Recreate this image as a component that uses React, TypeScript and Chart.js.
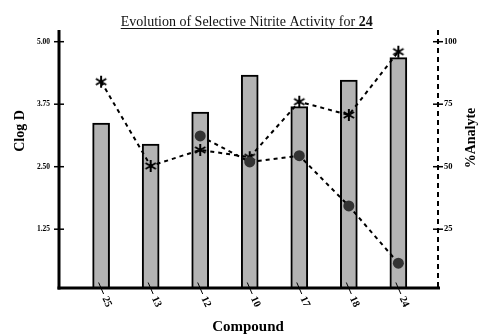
import React, { useEffect, useRef } from "react";
import { Chart, registerables } from "chart.js";

Chart.register(...registerables);

const compounds = ["25", "13", "12", "10", "17", "18", "24"];
const clogD = [3.37, 2.95, 3.59, 4.33, 3.7, 4.23, 4.68];
const analyteStar = [84, 50.3, 56.7, 53.8, 76, 70.7, 96];
const analyteDot: (number | null)[] = [null, null, 62.3, 51.9, 54.4, 34.3, 11.4];
const leftTicks = [1.25, 2.5, 3.75, 5.0];
const rightTicks = [25, 50, 75, 100];

const SERIF = '"Liberation Serif", "Times New Roman", serif';

function makeAsterisk(): HTMLCanvasElement {
  const c = document.createElement("canvas");
  c.width = 14;
  c.height = 14;
  const g = c.getContext("2d")!;
  g.strokeStyle = "#000";
  g.lineWidth = 2;
  g.lineCap = "butt";
  const r = 6;
  [90, 30, 150].forEach((deg) => {
    const a = (deg * Math.PI) / 180;
    g.beginPath();
    g.moveTo(7 - r * Math.cos(a), 7 - r * Math.sin(a));
    g.lineTo(7 + r * Math.cos(a), 7 + r * Math.sin(a));
    g.stroke();
  });
  return c;
}

const decorPlugin = {
  id: "decor",
  afterDraw(chart: any) {
    const ctx: CanvasRenderingContext2D = chart.ctx;
    const area = chart.chartArea;
    const xs = chart.scales.x;
    const ys = chart.scales.y;
    const y1 = chart.scales.y1;
    ctx.save();

    // Title
    const t1 = "Evolution of Selective Nitrite Activity for ";
    const t2 = "24";
    ctx.font = `14px ${SERIF}`;
    const w1 = ctx.measureText(t1).width;
    ctx.font = `bold 14px ${SERIF}`;
    const w2 = ctx.measureText(t2).width;
    const cx = 246.7;
    const startX = cx - (w1 + w2) / 2;
    ctx.fillStyle = "#111";
    ctx.textBaseline = "alphabetic";
    ctx.textAlign = "left";
    ctx.font = `14px ${SERIF}`;
    ctx.fillText(t1, startX, 25.5);
    ctx.font = `bold 14px ${SERIF}`;
    ctx.fillText(t2, startX + w1, 25.5);
    ctx.strokeStyle = "#111";
    ctx.lineWidth = 1;
    ctx.beginPath();
    ctx.moveTo(startX, 28.5);
    ctx.lineTo(startX + w1 + w2, 28.5);
    ctx.stroke();

    // Left axis
    ctx.strokeStyle = "#000";
    ctx.lineWidth = 3;
    ctx.beginPath();
    ctx.moveTo(area.left, area.top);
    ctx.lineTo(area.left, area.bottom + 1.5);
    ctx.stroke();
    // Bottom axis
    ctx.beginPath();
    ctx.moveTo(area.left - 1.5, area.bottom);
    ctx.lineTo(area.right + 2, area.bottom);
    ctx.stroke();
    // Right axis dashed
    ctx.lineWidth = 2;
    ctx.setLineDash([5, 4]);
    ctx.beginPath();
    ctx.moveTo(area.right, area.top);
    ctx.lineTo(area.right, area.bottom);
    ctx.stroke();
    ctx.setLineDash([]);

    // Left ticks
    ctx.lineWidth = 1.5;
    ctx.fillStyle = "#000";
    ctx.font = `bold 7.5px ${SERIF}`;
    ctx.textAlign = "right";
    ctx.textBaseline = "middle";
    leftTicks.forEach((v) => {
      const y = ys.getPixelForValue(v);
      ctx.beginPath();
      ctx.moveTo(area.left - 5, y);
      ctx.lineTo(area.left + 5, y);
      ctx.stroke();
      ctx.fillText(v.toFixed(2), area.left - 9, y);
    });

    // Right ticks
    ctx.font = `bold 8.5px ${SERIF}`;
    ctx.textAlign = "left";
    rightTicks.forEach((v) => {
      const y = y1.getPixelForValue(v);
      ctx.beginPath();
      ctx.moveTo(area.right - 5, y);
      ctx.lineTo(area.right + 5, y);
      ctx.stroke();
      ctx.fillText(String(v), area.right + 6, y);
    });

    // Bottom slanted ticks + rotated labels
    ctx.lineWidth = 1;
    ctx.font = `bold 10.5px ${SERIF}`;
    ctx.textAlign = "left";
    ctx.textBaseline = "middle";
    compounds.forEach((lab, i) => {
      const x = xs.getPixelForValue(i);
      ctx.beginPath();
      ctx.moveTo(x - 2.5, area.bottom - 5.5);
      ctx.lineTo(x + 2.5, area.bottom + 6);
      ctx.stroke();
      ctx.save();
      ctx.translate(x + 3.5, area.bottom + 9);
      ctx.rotate((65 * Math.PI) / 180);
      ctx.fillText(lab, 0, 0);
      ctx.restore();
    });

    // Axis titles
    ctx.font = `bold 15px ${SERIF}`;
    ctx.textAlign = "center";
    ctx.textBaseline = "alphabetic";
    ctx.fillText("Compound", 248, 331);

    ctx.font = `bold 14px ${SERIF}`;
    ctx.save();
    ctx.translate(23.5, 131);
    ctx.rotate(-Math.PI / 2);
    ctx.fillText("Clog D", 0, 0);
    ctx.restore();

    ctx.save();
    ctx.translate(474.5, 138);
    ctx.rotate(-Math.PI / 2);
    ctx.fillText("%Analyte", 0, 0);
    ctx.restore();

    ctx.restore();
  },
};

export default function App() {
  const ref = useRef<HTMLCanvasElement | null>(null);

  useEffect(() => {
    document.body.style.margin = "0";
    const canvas = ref.current;
    if (!canvas) return;
    const star = makeAsterisk();
    const chart = new Chart(canvas, {
      type: "bar",
      data: {
        datasets: [
          {
            type: "line",
            label: "Analyte (*)",
            data: analyteStar.map((v, i) => ({ x: i, y: v })),
            yAxisID: "y1",
            borderColor: "#000",
            borderWidth: 2,
            borderDash: [4, 4],
            pointStyle: star as any,
            pointRadius: 6,
            pointHoverRadius: 6,
            fill: false,
            tension: 0,
            order: 1,
          } as any,
          {
            type: "line",
            label: "Analyte (dot)",
            data: analyteDot.map((v, i) => ({ x: i, y: v })),
            yAxisID: "y1",
            borderColor: "#000",
            borderWidth: 2,
            borderDash: [4, 4],
            pointStyle: "circle",
            pointRadius: 5.5,
            pointBackgroundColor: "#333",
            pointBorderColor: "#333",
            pointBorderWidth: 0,
            fill: false,
            tension: 0,
            order: 0,
          } as any,
          {
            type: "bar",
            label: "Clog D",
            data: clogD.map((v, i) => ({ x: i, y: v })),
            yAxisID: "y",
            backgroundColor: "#b3b3b3",
            borderColor: "#000",
            borderWidth: 2,
            borderSkipped: false,
            barThickness: 17,
            order: 2,
          } as any,
        ],
      },
      options: {
        responsive: false,
        animation: false,
        devicePixelRatio: 1,
        layout: { padding: { left: 59, right: 43, top: 30, bottom: 47 } },
        plugins: {
          legend: { display: false },
          title: { display: false },
          tooltip: { enabled: false },
        },
        scales: {
          x: { type: "linear", min: -0.85, max: 6.8, offset: false, display: false },
          y: { type: "linear", min: 0.074, max: 5.234, display: false },
          y1: { type: "linear", min: 1.48, max: 104.68, display: false },
        },
      },
      plugins: [decorPlugin],
    });
    return () => chart.destroy();
  }, []);

  return (
    <div style={{ position: "absolute", left: 0, top: 0, width: 481, height: 335, background: "#fff" }}>
      <canvas ref={ref} width={481} height={335} style={{ display: "block" }} />
    </div>
  );
}
